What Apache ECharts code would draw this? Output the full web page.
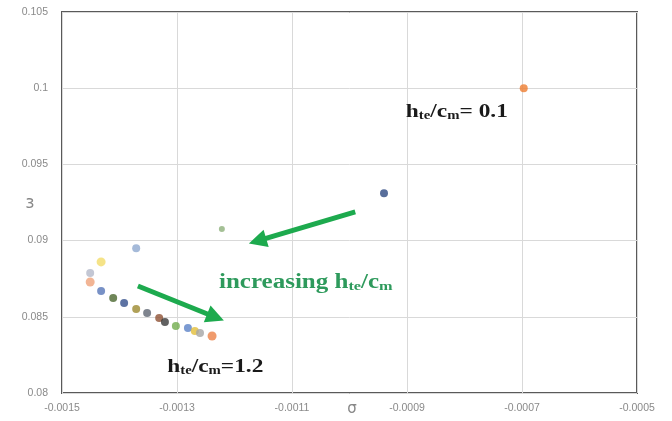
<!DOCTYPE html>
<html>
<head>
<meta charset="utf-8">
<script src="https://cdn.jsdelivr.net/npm/echarts@6/dist/echarts.min.js"></script>
<style>html,body{margin:0;padding:0;background:#fff}#c{width:672px;height:421px}</style>
</head>
<body>
<div id="c"></div>
<script>
// sigma (x) and epsilon (y) of each point, hte/cm increasing from 0.1 to 1.2
var sigmaValues = [-0.000697, -0.00094, -0.001222, -0.001371, -0.001432, -0.001451, -0.001451, -0.001432, -0.001411, -0.001392, -0.001371, -0.001352, -0.001331, -0.001321, -0.001302, -0.001281, -0.001269, -0.00126, -0.001239];
var epsilonValues = [0.1, 0.0931, 0.09076, 0.0895, 0.0886, 0.08787, 0.08728, 0.08669, 0.08623, 0.08591, 0.08551, 0.08525, 0.08492, 0.08466, 0.0844, 0.08427, 0.08407, 0.08394, 0.08374];
var xTickLabels = ['-0.0015', '-0.0013', '-0.0011', '-0.0009', '-0.0007', '-0.0005'];
var yTickLabels = ['0.08', '0.085', '0.09', '0.095', '0.1', '0.105'];

var pointColors = ['#ED7D31', '#2E4A82', '#8DB07A', '#8FA9D0', '#F3DC6A', '#B4B9C9', '#EFA27A', '#5676B8', '#4B6830', '#34508C', '#9C8A2E', '#5E6572', '#8E5134', '#3A3A3A', '#72AD4E', '#5B82C7', '#E2BE3A', '#A5A5A5', '#EC8247'];
var pointSizes = [8, 8, 6, 8, 9, 8, 9, 8, 8, 8, 8, 8, 8, 8, 8, 8, 8, 8, 9];

var chart = echarts.init(document.getElementById('c'), null, {renderer: 'canvas'});
var data = sigmaValues.map(function (x, i) {
  return {value: [x, epsilonValues[i]], symbolSize: pointSizes[i], itemStyle: {color: pointColors[i]}};
});
var green = '#1DAA4E';
var option = {
  animation: false,
  backgroundColor: '#fff',
  grid: {left: 62, right: 35, top: 12, bottom: 28, show: true, borderColor: '#5a5a5a', borderWidth: 2, backgroundColor: 'transparent'},
  xAxis: {
    type: 'value', min: -0.0015, max: -0.0005, interval: 0.0002,
    axisLine: {show: false}, axisTick: {show: false},
    splitLine: {show: true, lineStyle: {color: '#d9d9d9', width: 1}},
    axisLabel: {color: '#8a8a8a', fontSize: 10.5, margin: 10, fontFamily: 'Liberation Sans',
      formatter: function (v) { var i = Math.round((v + 0.0015) / 0.0002); return xTickLabels[i]; }}
  },
  yAxis: {
    type: 'value', min: 0.08, max: 0.105, interval: 0.005,
    axisLine: {show: false}, axisTick: {show: false},
    splitLine: {show: true, lineStyle: {color: '#d9d9d9', width: 1}},
    axisLabel: {color: '#8a8a8a', fontSize: 10.5, margin: 14, fontFamily: 'Liberation Sans',
      formatter: function (v) { var i = Math.round((v - 0.08) / 0.005); return yTickLabels[i]; }}
  },
  series: [
    {
      type: 'scatter', data: data, z: 3,
      markLine: {
        silent: true, symbol: ['none', 'path://M5,0 L10,11 L0,11 Z'], symbolSize: 18,
        label: {show: false},
        lineStyle: {color: green, width: 5, type: 'solid', opacity: 1},
        itemStyle: {color: green},
        emphasis: {disabled: true},
        data: [
          [{coord: [-0.00099, 0.09188]}, {coord: [-0.00116, 0.08998]}],
          [{coord: [-0.001368, 0.08702]}, {coord: [-0.001233, 0.08497]}]
        ]
      }
    }
  ]
};
chart.setOption(option);

function px(x, y) { return chart.convertToPixel({gridIndex: 0}, [x, y]); }
function rich(color, size) {
  return {
    m: {fontFamily: 'Liberation Serif', fontWeight: 'bold', fontSize: size, fill: color, lineHeight: 24, verticalAlign: 'bottom'},
    s: {fontFamily: 'Liberation Serif', fontWeight: 'bold', fontSize: Math.round(size * 0.63), fill: color, lineHeight: 16, verticalAlign: 'bottom'}
  };
}
var p1 = px(-0.000902, 0.09857), p2 = px(-0.001317, 0.08184), p3 = px(-0.001227, 0.08735);
chart.setOption({
  graphic: [
    {type: 'text', x: p1[0], y: p1[1], scaleX: 1.23, style: {text: '{m|h}{s|te}{m|/c}{s|m}{m|= 0.1}', rich: rich('#1a1a1a', 19), verticalAlign: 'middle'}},
    {type: 'text', x: p2[0], y: p2[1], scaleX: 1.23, style: {text: '{m|h}{s|te}{m|/c}{s|m}{m|=1.2}', rich: rich('#1a1a1a', 19), verticalAlign: 'middle'}},
    {type: 'text', x: p3[0], y: p3[1], scaleX: 1.25, style: {text: '{m|increasing h}{s|te}{m|/c}{s|m}', rich: rich('#2E9A5C', 20), verticalAlign: 'middle'}},
    {type: 'text', x: 352, y: 409, style: {text: 'σ', font: '15px "DejaVu Sans"', fill: '#888', align: 'center', verticalAlign: 'middle'}},
    {type: 'text', x: 30, y: 204, scaleX: -1, style: {text: 'ε', font: '17px "DejaVu Sans"', fill: '#888', align: 'center', verticalAlign: 'middle'}}
  ]
});
</script>
</body>
</html>
